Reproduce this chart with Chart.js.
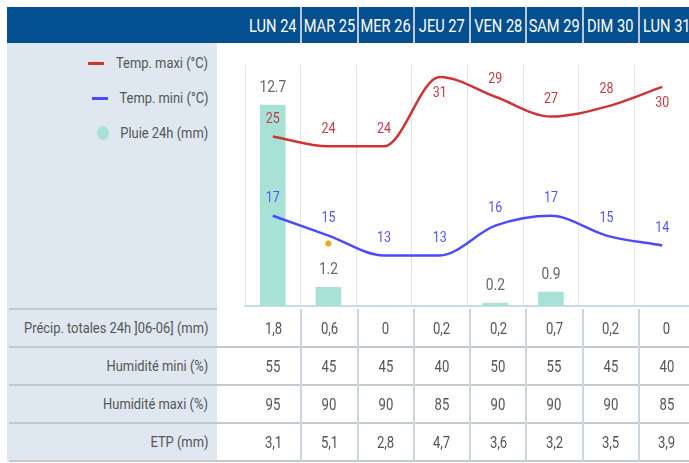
<!DOCTYPE html>
<html><head><meta charset="utf-8">
<script src="https://cdn.jsdelivr.net/npm/chart.js@4/dist/chart.umd.min.js"></script>
<style>
html,body{margin:0;padding:0;width:689px;height:463px;overflow:hidden;background:#fff;}
#wrap{position:absolute;left:0;top:0;width:689px;height:463px;overflow:hidden;font-family:Roboto,"Liberation Sans",sans-serif;color:#555;}
.abs{position:absolute;}
#head{left:7px;top:7px;width:700px;height:36px;background:#034f8f;}
.day{position:absolute;top:7px;height:36px;display:flex;justify-content:center;align-items:center;color:#fff;font-size:19px;white-space:nowrap;}
.sep{position:absolute;width:2px;background:#b9c8da;}
#left{left:7px;top:43px;width:210px;height:418px;background:#dfe8f1;}
.rt{position:absolute;display:flex;justify-content:flex-end;align-items:center;white-space:nowrap;color:#555;height:20px;}
.hl{position:absolute;height:2px;background:#c6c9cc;}
.vl{position:absolute;width:2px;background:#ccd6e1;}
.cell{position:absolute;display:flex;justify-content:center;align-items:center;font-size:16px;color:#555;white-space:nowrap;height:20px;}
.sx{display:inline-block;}
canvas{position:absolute;}
</style></head>
<body><div id="wrap">
<div id="head" class="abs"></div>
<div id="left" class="abs"></div>
<canvas id="c"></canvas>
</div>
<script>
// ---- data ----
const days = ["LUN 24","MAR 25","MER 26","JEU 27","VEN 28","SAM 29","DIM 30","LUN 31"];
const tempMaxi = [25,24,24,31,29,27,28,30];
const tempMini = [17,15,13,13,16,17,15,14];
const pluie24h = [12.7,1.2,0,0,0.2,0.9,0,0];
const repere = [null,14.2,null,null,null,null,null,null];
const seriesNames = ["Temp. maxi (°C)","Temp. mini (°C)","Pluie 24h (mm)"];
const rowLabels = ["Précip. totales 24h ]06-06] (mm)","Humidité mini (%)","Humidité maxi (%)","ETP (mm)"];
const precipTotales = [1.8,0.6,0,0.2,0.2,0.7,0.2,0];
const humiditeMini = [55,45,45,40,50,55,45,40];
const humiditeMaxi = [95,90,90,85,90,90,90,85];
const etp = [3.1,5.1,2.8,4.7,3.6,3.2,3.5,3.9];

const FONT = 'Roboto,"Liberation Sans",sans-serif';
const RED='#cf3434', BLUE='#4a4aff', MINT='#a8e2d6';
const X0=245, CW=56.25;
const wrap=document.getElementById('wrap');
function add(cls, style, text, sx, origin){
  const d=document.createElement('div');d.className=cls;Object.assign(d.style,style);
  if(text!=null){const s=document.createElement('span');s.className='sx';s.textContent=text;
    s.style.transform='scaleX('+(sx||1)+')';s.style.transformOrigin=origin||'center';d.appendChild(s);}
  wrap.appendChild(d);return d;}

// header days
days.forEach((d,i)=>{
  add('day',{left:(X0+i*CW)+'px',width:CW+'px'},d,0.77,'center');
  if(i>0) add('sep',{left:(X0+i*CW-1)+'px',top:'7px',height:'36px'});
});
// legend
const legY=[63,98,133];
seriesNames.forEach((n,i)=>{
  add('rt',{top:(legY[i]-10)+'px',left:'0px',width:'208px',fontSize:'15px'},n,0.86,'right center');
});
add('abs',{left:'88px',top:'62px',width:'16px',height:'3px',background:RED});
add('abs',{left:'92px',top:'97px',width:'16px',height:'3px',background:BLUE});
add('abs',{left:'97px',top:'126px',width:'12px',height:'14px',borderRadius:'50%',background:MINT});

// table
const rows=[precipTotales,humiditeMini,humiditeMaxi,etp];
const rowTop=[309,347,385,423,461];
add('hl',{left:'9px',width:'208px',top:(rowTop[0]-1)+'px'});
for(let r=1;r<rowTop.length;r++) add('hl',{left:'9px',width:'700px',top:(rowTop[r]-1)+'px'});
for(let i=1;i<8;i++) add('vl',{left:(X0+i*CW-1)+'px',top:'309px',height:'152px'});
const fmt=v=>String(v).replace('.',',');
rows.forEach((arr,r)=>{
  const mid=(rowTop[r]+rowTop[r+1])/2;
  add('rt',{top:(mid-10)+'px',left:'0px',width:'208px',fontSize:'15px'},rowLabels[r],0.86,'right center');
  arr.forEach((v,i)=>add('cell',{left:(X0+i*CW)+'px',width:CW+'px',top:(mid-10)+'px'},fmt(v),0.82,'center'));
});

// chart
const cv=document.getElementById('c');
const CL=235, CT=45, CWD=470, CH=265;
cv.width=CWD;cv.height=CH;cv.style.left=CL+'px';cv.style.top=CT+'px';cv.style.width=CWD+'px';cv.style.height=CH+'px';

const labelPlugin={id:'vlabels',afterDatasetsDraw(chart){
  const ctx=chart.ctx, area=chart.chartArea;
  chart.data.datasets.forEach((ds,di)=>{
    if(!ds.lblColor) return;
    const meta=chart.getDatasetMeta(di);
    meta.data.forEach((el,j)=>{
      const v=ds.data[j];
      if(v==null||(ds.hideZero&&v===0)) return;
      let ty=el.y-17;
      if(ty-7<area.top) ty=el.y+16;
      ctx.save();
      ctx.font=ds.lblFont;ctx.fillStyle=ds.lblColor;ctx.textAlign='center';ctx.textBaseline='middle';
      ctx.translate(el.x,ty);ctx.scale(ds.lblScale,1);
      ctx.fillText(String(v),0,0);
      ctx.restore();
    });
  });
}};

new Chart(cv,{
  data:{labels:days,datasets:[
    {type:'line',label:seriesNames[0],data:tempMaxi,yAxisID:'y',borderColor:RED,borderWidth:2.5,pointRadius:0,cubicInterpolationMode:'monotone',order:1,
     lblColor:'#c23a45',lblFont:'15px '+FONT,lblScale:0.83},
    {type:'line',label:seriesNames[1],data:tempMini,yAxisID:'y',borderColor:BLUE,borderWidth:2.5,pointRadius:0,cubicInterpolationMode:'monotone',order:1,
     lblColor:'#5555ee',lblFont:'15px '+FONT,lblScale:0.83},
    {type:'line',label:'repère',data:repere,yAxisID:'y',showLine:false,pointRadius:3,pointBackgroundColor:'#f5a31a',pointBorderWidth:0,order:0},
    {type:'bar',label:seriesNames[2],data:pluie24h,yAxisID:'y1',backgroundColor:MINT,barPercentage:0.46,categoryPercentage:1,order:3,
     lblColor:'#666',lblFont:'16px '+FONT,lblScale:0.86,hideZero:true}
  ]},
  options:{responsive:false,animation:false,devicePixelRatio:1,
    layout:{padding:{left:10,right:15,top:20,bottom:0}},
    plugins:{legend:{display:false},tooltip:{enabled:false}},
    events:[],
    scales:{
      x:{type:'category',offset:true,grid:{offset:true,color:'#e6e6e6',lineWidth:1,drawTicks:false},ticks:{display:false},border:{display:true,color:'#ccd9e6',width:2}},
      y:{display:false,min:7.9,max:32.2},
      y1:{display:false,min:0,max:15.2}
    }
  },
  plugins:[labelPlugin]
});
</script>
</body></html>
